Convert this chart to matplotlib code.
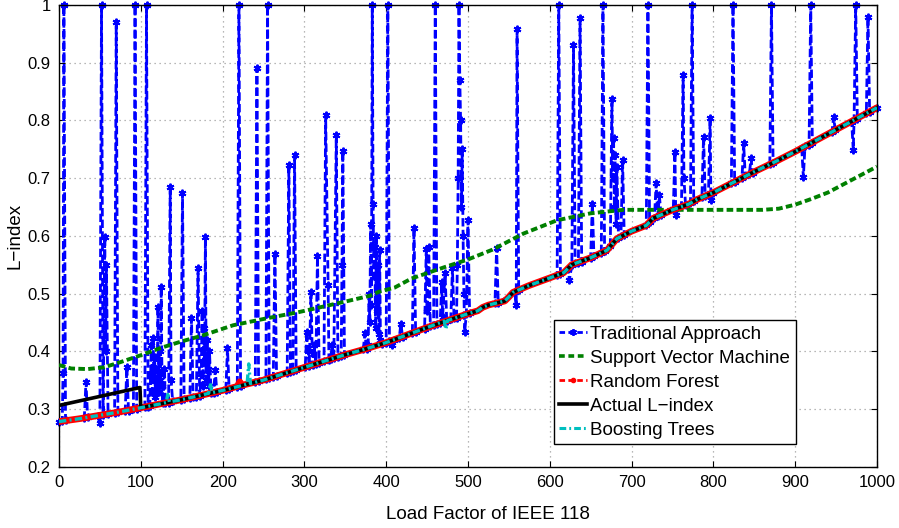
import matplotlib
matplotlib.use("Agg")
import matplotlib.pyplot as plt
from matplotlib.lines import Line2D

plt.rcParams['font.family'] = ['Liberation Sans', 'DejaVu Sans']

# ---------------- data ----------------
x_ticks = [0, 100, 200, 300, 400, 500, 600, 700, 800, 900, 1000]
y_ticks = [0.2, 0.3, 0.4, 0.5, 0.6, 0.7, 0.8, 0.9, 1.0]
y_tick_labels = ["0.2", "0.3", "0.4", "0.5", "0.6", "0.7", "0.8", "0.9", "1"]

# Traditional approach (spiky series)
trad_x = [0, 4, 5, 6, 8, 31, 33, 35, 48, 50,
          52, 54, 56, 57, 58, 60, 68, 70, 72, 81,
          83, 85, 91, 93, 95, 105, 107, 109, 111, 112,
          113, 114, 115, 116, 117, 118, 119, 120, 121, 122,
          123, 124, 125, 126, 127, 129, 130, 134, 136, 137,
          139, 149, 151, 153, 160, 162, 164, 168, 170, 172,
          174, 175, 176, 177, 178, 179, 180, 181, 182, 183,
          184, 186, 189, 191, 193, 204, 206, 208, 218, 220,
          222, 240, 242, 244, 253, 255, 257, 262, 264, 266,
          279, 281, 283, 286, 288, 290, 301, 303, 304, 306,
          308, 310, 312, 314, 316, 318, 324, 326, 329, 330,
          332, 334, 336, 339, 341, 345, 346, 347, 349, 372,
          374, 376, 378, 379, 380, 381, 382, 383, 384, 385,
          386, 387, 388, 389, 390, 391, 392, 393, 395, 400,
          402, 404, 407, 409, 416, 418, 420, 432, 434, 436,
          447, 449, 450, 452, 454, 458, 460, 462, 466, 468,
          469, 472, 474, 479, 481, 483, 486, 487, 488, 489,
          490, 491, 492, 493, 494, 495, 496, 498, 500, 502,
          533, 535, 537, 557, 559, 560, 562, 609, 611, 613,
          622, 624, 627, 629, 631, 635, 637, 639, 650, 652,
          654, 663, 665, 667, 674, 676, 677, 678, 679, 680,
          681, 682, 684, 687, 689, 691, 718, 720, 722, 728,
          730, 732, 734, 736, 751, 753, 754, 756, 761, 763,
          764, 766, 772, 774, 776, 786, 788, 790, 794, 796,
          797, 799, 822, 824, 826, 835, 837, 839, 844, 846,
          848, 869, 871, 873, 908, 910, 912, 917, 919, 921,
          945, 947, 949, 969, 971, 972, 974, 976, 987, 989,
          991, 1000]
trad_y = [0.278, 0.279, 0.362, 1.0, 0.280, 0.285, 0.347, 0.286, 0.288, 0.276,
          1.0, 0.290, 0.598, 0.40, 0.55, 0.291, 0.293, 0.971, 0.294, 0.297,
          0.373, 0.297, 0.299, 1.0, 0.300, 0.303, 1.0, 0.304, 0.305, 0.36,
          0.41, 0.33, 0.423, 0.35, 0.39, 0.32, 0.37, 0.34, 0.477, 0.33,
          0.40, 0.35, 0.512, 0.34, 0.31, 0.37, 0.310, 0.311, 0.685, 0.35,
          0.313, 0.316, 0.674, 0.317, 0.319, 0.457, 0.320, 0.321, 0.544, 0.322,
          0.36, 0.47, 0.34, 0.44, 0.38, 0.598, 0.35, 0.42, 0.37, 0.34,
          0.40, 0.327, 0.328, 0.367, 0.330, 0.333, 0.405, 0.335, 0.338, 1.0,
          0.340, 0.346, 0.890, 0.348, 0.351, 1.0, 0.353, 0.355, 0.568, 0.357,
          0.363, 0.723, 0.364, 0.365, 0.740, 0.367, 0.372, 0.434, 0.40, 0.375,
          0.503, 0.376, 0.41, 0.378, 0.565, 0.380, 0.383, 0.809, 0.515, 0.385,
          0.386, 0.41, 0.388, 0.774, 0.390, 0.392, 0.549, 0.747, 0.394, 0.403,
          0.431, 0.404, 0.41, 0.50, 0.45, 0.62, 0.48, 1.0, 0.655, 0.53,
          0.58, 0.44, 0.60, 0.47, 0.55, 0.43, 0.575, 0.42, 0.413, 0.415,
          1.0, 0.417, 0.411, 0.420, 0.423, 0.448, 0.425, 0.431, 0.614, 0.433,
          0.439, 0.577, 0.47, 0.580, 0.443, 0.445, 1.0, 0.447, 0.449, 0.520,
          0.46, 0.535, 0.453, 0.455, 0.544, 0.457, 0.458, 0.55, 0.70, 1.0,
          0.87, 0.80, 0.65, 0.75, 0.60, 0.50, 0.434, 0.464, 0.627, 0.466,
          0.483, 0.579, 0.484, 0.503, 0.480, 0.958, 0.506, 0.532, 1.0, 0.534,
          0.543, 0.523, 0.550, 0.931, 0.552, 0.553, 0.977, 0.555, 0.562, 0.655,
          0.565, 0.570, 1.0, 0.573, 0.582, 0.837, 0.70, 0.77, 0.65, 0.74,
          0.62, 0.72, 0.597, 0.599, 0.731, 0.602, 0.618, 1.0, 0.624, 0.631,
          0.691, 0.634, 0.67, 0.636, 0.646, 0.746, 0.636, 0.648, 0.651, 0.879,
          0.70, 0.653, 0.656, 1.0, 0.660, 0.667, 0.772, 0.669, 0.671, 0.805,
          0.662, 0.674, 0.691, 1.0, 0.694, 0.700, 0.760, 0.703, 0.707, 0.734,
          0.709, 0.724, 1.0, 0.726, 0.752, 0.702, 0.755, 0.758, 1.0, 0.761,
          0.780, 0.806, 0.783, 0.798, 0.749, 0.80, 1.0, 0.803, 0.812, 0.979,
          0.815, 0.822]

# Support Vector Machine
svm_x = [0, 15, 35, 55, 75, 100, 125, 150, 175, 213, 254, 294, 350, 380, 391,
         399, 410, 431, 472, 500, 530, 568, 609, 650, 690, 860, 880, 900, 920,
         940, 960, 980, 1000]
svm_y = [0.376, 0.370, 0.369, 0.372, 0.381, 0.393, 0.406, 0.417, 0.427, 0.445,
         0.457, 0.468, 0.486, 0.496, 0.503, 0.506, 0.510, 0.526, 0.546, 0.559,
         0.576, 0.604, 0.627, 0.639, 0.645, 0.645, 0.647, 0.654, 0.664, 0.675,
         0.690, 0.705, 0.720]

# Random Forest
rf_x = [0, 25, 50, 75, 100, 125, 150, 175, 200, 218, 221, 224, 250, 275, 300,
        325, 350, 375, 400, 425, 450, 475, 500, 512, 518, 525, 545, 550, 555,
        575, 600, 617, 622, 627, 650, 670, 676, 682, 700, 718, 722, 726, 750,
        770, 775, 780, 800, 825, 850, 875, 900, 925, 950, 975, 1000]
rf_y = [0.278, 0.283, 0.289, 0.295, 0.302, 0.309, 0.316, 0.324, 0.332, 0.339,
        0.347, 0.341, 0.350, 0.361, 0.372, 0.383, 0.394, 0.404, 0.415, 0.428,
        0.441, 0.453, 0.465, 0.470, 0.476, 0.480, 0.487, 0.494, 0.502, 0.514,
        0.527, 0.536, 0.543, 0.550, 0.562, 0.575, 0.585, 0.595, 0.608, 0.618,
        0.624, 0.630, 0.645, 0.655, 0.659, 0.663, 0.675, 0.693, 0.711, 0.728,
        0.746, 0.765, 0.784, 0.803, 0.822]

# Actual L-index
act_x = [0, 99, 100, 125, 150, 175, 200, 225, 250, 275, 300, 325, 350, 375,
         400, 425, 450, 475, 500, 512, 518, 525, 545, 550, 555, 575, 600, 617,
         622, 627, 650, 670, 676, 682, 700, 718, 722, 726, 750, 770, 775, 780,
         800, 825, 850, 875, 900, 925, 950, 975, 1000]
act_y = [0.306, 0.337, 0.302, 0.309, 0.316, 0.324, 0.332, 0.341, 0.350, 0.361,
         0.372, 0.383, 0.394, 0.404, 0.415, 0.428, 0.441, 0.453, 0.465, 0.470,
         0.476, 0.480, 0.487, 0.494, 0.502, 0.514, 0.527, 0.536, 0.543, 0.550,
         0.562, 0.575, 0.585, 0.595, 0.608, 0.618, 0.624, 0.630, 0.645, 0.655,
         0.659, 0.663, 0.675, 0.693, 0.711, 0.728, 0.746, 0.765, 0.784, 0.803,
         0.822]

# Boosting Trees
bt_x = [0, 25, 50, 75, 100, 125, 131, 133, 135, 150, 175, 183, 185, 187, 200,
        225, 230, 232, 234, 250, 275, 300, 325, 350, 375, 400, 425, 450, 471,
        473, 475, 500, 512, 518, 525, 545, 550, 555, 575, 600, 617, 622, 627,
        650, 670, 676, 682, 700, 718, 722, 726, 750, 770, 775, 780, 800, 825,
        850, 875, 900, 925, 950, 975, 1000]
bt_y = [0.278, 0.283, 0.289, 0.295, 0.302, 0.309, 0.311, 0.325, 0.312, 0.316,
        0.324, 0.327, 0.345, 0.328, 0.332, 0.341, 0.343, 0.378, 0.344, 0.350,
        0.361, 0.372, 0.383, 0.394, 0.404, 0.415, 0.428, 0.441, 0.452, 0.438,
        0.453, 0.465, 0.470, 0.476, 0.480, 0.487, 0.494, 0.502, 0.514, 0.527,
        0.536, 0.543, 0.550, 0.562, 0.575, 0.585, 0.595, 0.608, 0.618, 0.624,
        0.630, 0.645, 0.655, 0.659, 0.663, 0.675, 0.693, 0.711, 0.728, 0.746,
        0.765, 0.784, 0.803, 0.822]

labels = ["Traditional Approach", "Support Vector Machine", "Random Forest",
          "Actual L\u2212index", "Boosting Trees"]

# ---------------- styles ----------------
C_BLUE = (0, 0, 1)
C_GREEN = (0, 0.5, 0)
C_RED = (1, 0, 0)
C_BLACK = (0, 0, 0)
C_CYAN = (0, 0.75, 0.75)
ASTER = (6, 2, 0)

fig = plt.figure(figsize=(8.99, 5.28), dpi=100)
ax = fig.add_axes([0.0656, 0.1163, 0.9099, 0.8742])

ax.plot(trad_x, trad_y, color=C_BLUE, lw=2.0, dashes=(3, 1.2),
        marker=ASTER, ms=5.5, mew=1.4, mec=C_BLUE, clip_on=False, zorder=2)
ax.plot(svm_x, svm_y, color=C_GREEN, lw=2.8, dashes=(1.7, 0.85), zorder=3)
ax.plot(rf_x, rf_y, color=C_RED, lw=4.8, solid_capstyle='round',
        solid_joinstyle='round', zorder=4)
ax.plot(act_x, act_y, color=C_BLACK, lw=2.6, zorder=5)
ax.plot(bt_x, bt_y, color=C_CYAN, lw=2.4, dashes=(2.2, 1.0, 0.6, 1.0), zorder=6)

ax.set_xlim(0, 1000)
ax.set_ylim(0.2, 1.0)
ax.set_xticks(x_ticks)
ax.set_yticks(y_ticks)
ax.set_yticklabels(y_tick_labels)
ax.tick_params(direction='in', length=4, width=0.8, top=True, right=True,
               labelsize=12, pad=6, colors='black')
ax.grid(True, color='#a0a0a0', linestyle=(0, (1, 3)), linewidth=0.9)
ax.set_axisbelow(True)
for sp in ax.spines.values():
    sp.set_linewidth(1.0)
    sp.set_color('black')

ax.set_xlabel("Load Factor of IEEE 118", fontsize=13.5)
ax.xaxis.set_label_coords(0.5245, -0.085)
ax.set_ylabel("L\u2212index", fontsize=13.5)
ax.yaxis.set_label_coords(-0.043, 0.5)

handles = [
    Line2D([], [], color=C_BLUE, lw=2, dashes=(2, 1.2), marker=ASTER, ms=5, mew=1.3),
    Line2D([], [], color=C_GREEN, lw=2.6, dashes=(1.6, 1.0)),
    Line2D([], [], color=C_RED, lw=2, dashes=(2, 1.2), marker='.', ms=6),
    Line2D([], [], color=C_BLACK, lw=2.6),
    Line2D([], [], color=C_CYAN, lw=2.2, dashes=(2.2, 1.0, 0.6, 1.0)),
]
leg = ax.legend(handles, labels, loc='upper left', bbox_to_anchor=(0.605, 0.318),
                borderaxespad=0, fontsize=13.5, frameon=True, fancybox=False,
                edgecolor='black', framealpha=1, handlelength=1.45,
                handletextpad=0.2, labelspacing=0.37, borderpad=0.3, numpoints=1)
leg.get_frame().set_linewidth(1.0)
leg.set_zorder(10)

fig.savefig("out.png", dpi=100)
